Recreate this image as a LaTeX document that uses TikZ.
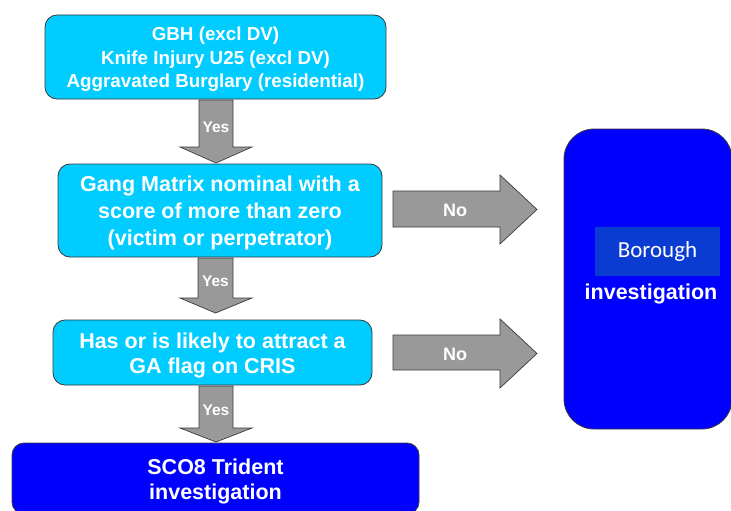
\documentclass[tikz,border=0pt]{standalone}
\usepackage{fontspec}
\setmainfont{Liberation Sans}
\newfontfamily\carl{Carlito}
\definecolor{lightb}{HTML}{00CCFF}
\definecolor{darkb}{HTML}{0000FF}
\definecolor{hib}{HTML}{0A3CD2}
\definecolor{arrowg}{HTML}{999999}
\definecolor{edgeg}{HTML}{3A3A3A}
\begin{document}
\begin{tikzpicture}[x=1pt,y=-1pt,
  flowbox/.style={draw=edgeg,line width=0.8pt,rounded corners=12pt,fill=lightb,inner sep=0pt},
  endbox/.style={flowbox,fill=darkb},
  boxtext/.style={text=white,align=center,inner sep=0pt,yshift=-2.5pt},
  blockarrow/.style={draw=edgeg,line width=0.7pt,fill=arrowg},
  yeslbl/.style={text=white,font=\bfseries\fontsize{15.5}{17}\selectfont,inner sep=0pt},
  nolbl/.style={text=white,font=\bfseries\fontsize{18}{20}\selectfont,inner sep=0pt}]
\useasboundingbox (0,0) rectangle (731,511);
\clip (0,0) rectangle (731,511);
\fill[white] (0,0) rectangle (731,511);
% boxes
\node[flowbox,minimum width=341pt,minimum height=84pt] (b1) at (215.5,57) {};
\node[boxtext,font=\bfseries\fontsize{18.8}{23.5}\selectfont] (t1) at (b1.center)
  {GBH (excl DV)\\Knife Injury U25 (excl DV)\\Aggravated Burglary (residential)};
\node[flowbox,minimum width=324pt,minimum height=93pt] (b2) at (220,210.5) {};
\node[boxtext,font=\bfseries\fontsize{21.5}{27}\selectfont] (t2) at (b2.center)
  {Gang Matrix nominal with a\\score of more than zero\\(victim or perpetrator)};
\node[flowbox,minimum width=319pt,minimum height=65pt] (b3) at (212.5,352.5) {};
\node[boxtext,font=\bfseries\fontsize{21.5}{25}\selectfont] (t3) at (b3.center)
  {Has or is likely to attract a\\GA flag on CRIS};
\node[endbox,minimum width=407pt,minimum height=71pt] (b4) at (215.5,478.5) {};
\node[boxtext,font=\bfseries\fontsize{21.5}{25}\selectfont] (t4) at (b4.center)
  {SCO8 Trident\\investigation};
\node[endbox,rounded corners=30pt,minimum width=168pt,minimum height=300pt] (b5) at (648,279) {};
\node[fill=hib,minimum width=125pt,minimum height=49pt,inner sep=0pt,text=white,font=\carl\fontsize{23}{27}\selectfont] (bor) at (657.5,251.5) {\raisebox{-2pt}{Borough}};
\node[text=white,font=\bfseries\fontsize{21.5}{25}\selectfont,inner sep=0pt] (inv) at (651,293.5) {investigation};
% down arrows
\draw[blockarrow] (199,100) -- (233,100) -- (233,147) -- (252,147) -- (216,163) -- (180,147) -- (199,147) -- cycle;
\node[yeslbl] (y1) at (216,127) {Yes};
\draw[blockarrow] (198,258) -- (233,258) -- (233,298) -- (252,298) -- (215.5,313) -- (180,298) -- (198,298) -- cycle;
\node[yeslbl] (y2) at (215.5,281) {Yes};
\draw[blockarrow] (199,386) -- (233,386) -- (233,428) -- (252,428) -- (216,442) -- (180,428) -- (199,428) -- cycle;
\node[yeslbl] (y3) at (216,410) {Yes};
% right arrows
\draw[blockarrow] (393,191) -- (500,191) -- (500,175) -- (537,209.5) -- (500,244) -- (500,227) -- (393,227) -- cycle;
\node[nolbl] (n1) at (455,210) {No};
\draw[blockarrow] (393,335) -- (500,335) -- (500,319) -- (537,353.5) -- (500,388) -- (500,370) -- (393,370) -- cycle;
\node[nolbl] (n2) at (455,354) {No};
\end{tikzpicture}
\end{document}
